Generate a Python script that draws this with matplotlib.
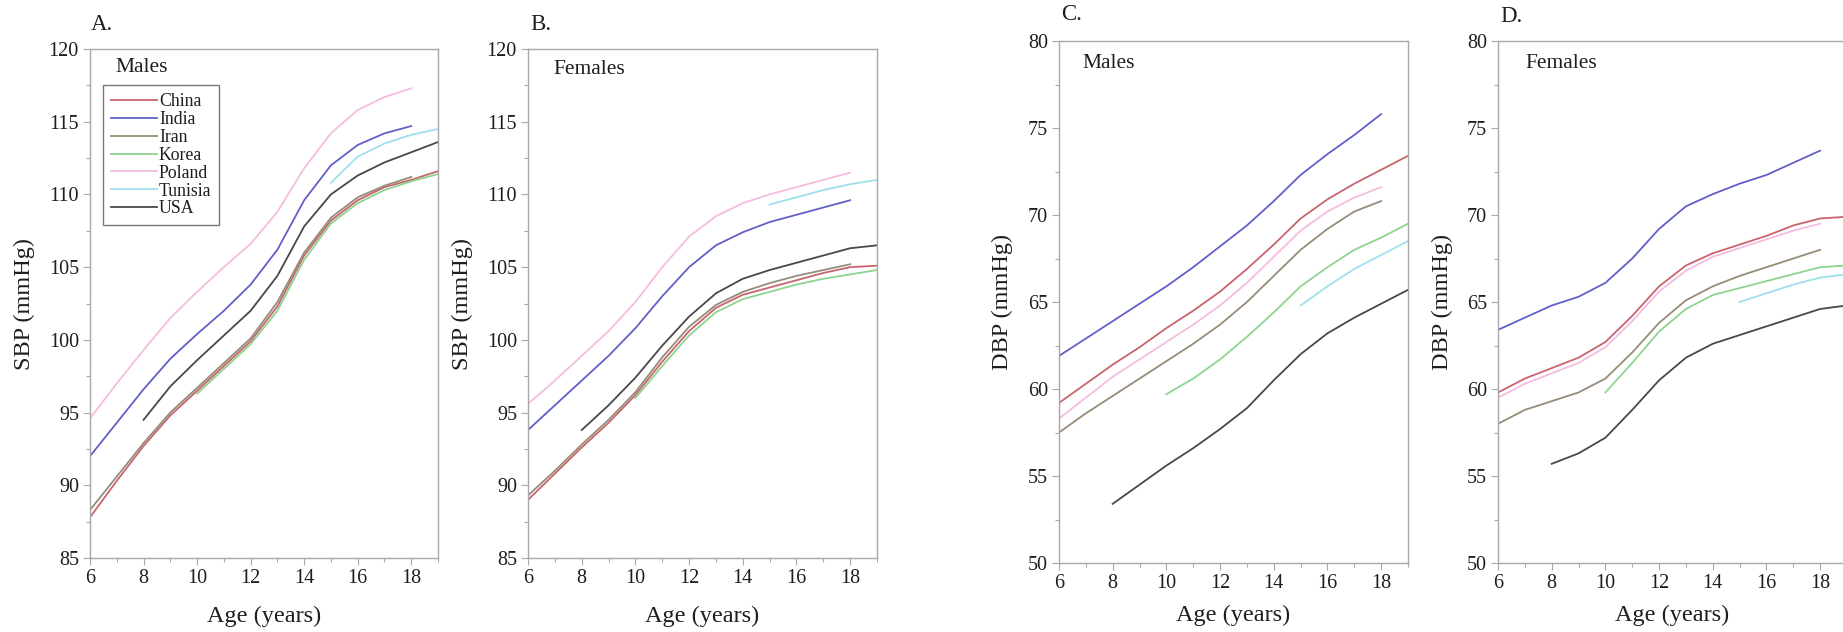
import matplotlib
matplotlib.use("Agg")
import matplotlib.pyplot as plt
from matplotlib.ticker import MultipleLocator

plt.rcParams['font.family'] = ['Liberation Serif', 'DejaVu Serif']

# ages covered by each country
age_china = [6, 7, 8, 9, 10, 11, 12, 13, 14, 15, 16, 17, 18, 19]
age_india = [6, 7, 8, 9, 10, 11, 12, 13, 14, 15, 16, 17, 18]
age_iran = [6, 7, 8, 9, 10, 11, 12, 13, 14, 15, 16, 17, 18]
age_korea = [10, 11, 12, 13, 14, 15, 16, 17, 18, 19]
age_poland = [6, 7, 8, 9, 10, 11, 12, 13, 14, 15, 16, 17, 18]
age_tunisia = [15, 16, 17, 18, 19]
age_usa = [8, 9, 10, 11, 12, 13, 14, 15, 16, 17, 18, 19]

countries = ['China', 'India', 'Iran', 'Korea', 'Poland', 'Tunisia', 'USA']
colors = ['#c8646e', '#6060c8', '#968c78', '#8ed490', '#f4bce0', '#9ee0ec', '#484848']

# A. SBP males
sbp_m_china = [87.8, 90.3, 92.7, 94.8, 96.5, 98.2, 99.9, 102.3, 105.8, 108.2, 109.6, 110.5, 111.0, 111.6]
sbp_m_india = [92.0, 94.3, 96.6, 98.7, 100.4, 102.0, 103.8, 106.2, 109.6, 112.0, 113.4, 114.2, 114.7]
sbp_m_iran = [88.3, 90.6, 92.9, 95.0, 96.7, 98.4, 100.1, 102.6, 106.0, 108.4, 109.8, 110.6, 111.2]
sbp_m_korea = [96.3, 98.0, 99.7, 102.0, 105.5, 108.0, 109.4, 110.3, 110.9, 111.4]
sbp_m_poland = [94.6, 97.0, 99.3, 101.5, 103.3, 105.0, 106.6, 108.8, 111.8, 114.2, 115.8, 116.7, 117.3]
sbp_m_tunisia = [110.8, 112.6, 113.5, 114.1, 114.5]
sbp_m_usa = [94.5, 96.8, 98.6, 100.3, 102.0, 104.4, 107.8, 110.0, 111.3, 112.2, 112.9, 113.6]

# B. SBP females
sbp_f_china = [89.0, 90.8, 92.6, 94.3, 96.2, 98.5, 100.6, 102.2, 103.1, 103.6, 104.1, 104.6, 105.0, 105.1]
sbp_f_india = [93.8, 95.5, 97.2, 98.9, 100.8, 103.0, 105.0, 106.5, 107.4, 108.1, 108.6, 109.1, 109.6]
sbp_f_iran = [89.3, 91.0, 92.8, 94.5, 96.4, 98.8, 100.9, 102.4, 103.3, 103.9, 104.4, 104.8, 105.2]
sbp_f_korea = [96.0, 98.2, 100.3, 101.9, 102.8, 103.3, 103.8, 104.2, 104.5, 104.8]
sbp_f_poland = [95.6, 97.2, 98.9, 100.6, 102.6, 105.0, 107.1, 108.5, 109.4, 110.0, 110.5, 111.0, 111.5]
sbp_f_tunisia = [109.3, 109.8, 110.3, 110.7, 111.0]
sbp_f_usa = [93.8, 95.5, 97.4, 99.6, 101.6, 103.2, 104.2, 104.8, 105.3, 105.8, 106.3, 106.5]

# C. DBP males
dbp_m_china = [59.2, 60.3, 61.4, 62.4, 63.5, 64.5, 65.6, 66.9, 68.3, 69.8, 70.9, 71.8, 72.6, 73.4]
dbp_m_india = [61.9, 62.9, 63.9, 64.9, 65.9, 67.0, 68.2, 69.4, 70.8, 72.3, 73.5, 74.6, 75.8]
dbp_m_iran = [57.5, 58.6, 59.6, 60.6, 61.6, 62.6, 63.7, 65.0, 66.5, 68.0, 69.2, 70.2, 70.8]
dbp_m_korea = [59.7, 60.6, 61.7, 63.0, 64.4, 65.9, 67.0, 68.0, 68.7, 69.5]
dbp_m_poland = [58.3, 59.5, 60.7, 61.7, 62.7, 63.7, 64.8, 66.1, 67.6, 69.1, 70.2, 71.0, 71.6]
dbp_m_tunisia = [64.8, 65.9, 66.9, 67.7, 68.5]
dbp_m_usa = [53.4, 54.5, 55.6, 56.6, 57.7, 58.9, 60.5, 62.0, 63.2, 64.1, 64.9, 65.7]

# D. DBP females
dbp_f_china = [59.8, 60.6, 61.2, 61.8, 62.7, 64.2, 65.9, 67.1, 67.8, 68.3, 68.8, 69.4, 69.8, 69.9]
dbp_f_india = [63.4, 64.1, 64.8, 65.3, 66.1, 67.5, 69.2, 70.5, 71.2, 71.8, 72.3, 73.0, 73.7]
dbp_f_iran = [58.0, 58.8, 59.3, 59.8, 60.6, 62.1, 63.8, 65.1, 65.9, 66.5, 67.0, 67.5, 68.0]
dbp_f_korea = [59.8, 61.5, 63.3, 64.6, 65.4, 65.8, 66.2, 66.6, 67.0, 67.1]
dbp_f_poland = [59.5, 60.3, 60.9, 61.5, 62.4, 63.9, 65.6, 66.8, 67.6, 68.1, 68.6, 69.1, 69.5]
dbp_f_tunisia = [65.0, 65.5, 66.0, 66.4, 66.6]
dbp_f_usa = [55.7, 56.3, 57.2, 58.8, 60.5, 61.8, 62.6, 63.1, 63.6, 64.1, 64.6, 64.8]

ages = [age_china, age_india, age_iran, age_korea, age_poland, age_tunisia, age_usa]

W, H = 1843.0, 632.0
fig = plt.figure(figsize=(W / 100, H / 100), dpi=100)
fig.patch.set_facecolor('white')

text_col = '#1e1e1e'
spine_col = '#a8a8a8'


def make_axes(left, top, bottom, width):
    return fig.add_axes([left / W, 1 - bottom / H, width / W, (bottom - top) / H])


def style(ax, ylim, ymajor, ylab, ylab_x, xlab_y):
    ax.set_xlim(6, 19)
    ax.set_ylim(*ylim)
    ax.xaxis.set_major_locator(MultipleLocator(2))
    ax.xaxis.set_minor_locator(MultipleLocator(1))
    ax.yaxis.set_major_locator(MultipleLocator(ymajor))
    ax.yaxis.set_minor_locator(MultipleLocator(ymajor / 2))
    for s in ax.spines.values():
        s.set_color(spine_col)
        s.set_linewidth(1.0)
    ax.tick_params(which='major', direction='out', length=5, width=0.8,
                   color=spine_col, labelsize=14.5, labelcolor=text_col, pad=3)
    ax.tick_params(which='minor', direction='out', length=3, width=0.8, color=spine_col)
    ax.set_xlabel('Age (years)', fontsize=17.5, color=text_col)
    ax.set_ylabel(ylab, fontsize=17.5, color=text_col)
    ax.xaxis.set_label_coords(0.5, xlab_y)
    ax.yaxis.set_label_coords(ylab_x, 0.5)


def draw(ax, series):
    for age, vals, col, name in zip(ages, series, colors, countries):
        ax.plot(age, vals, color=col, lw=1.3, label=name)


axA = make_axes(90, 49, 558, 348)
axB = make_axes(528, 49, 558, 349)
axC = make_axes(1059, 41, 563, 349)
axD = make_axes(1498, 41, 563, 349)

draw(axA, [sbp_m_china, sbp_m_india, sbp_m_iran, sbp_m_korea, sbp_m_poland, sbp_m_tunisia, sbp_m_usa])
draw(axB, [sbp_f_china, sbp_f_india, sbp_f_iran, sbp_f_korea, sbp_f_poland, sbp_f_tunisia, sbp_f_usa])
draw(axC, [dbp_m_china, dbp_m_india, dbp_m_iran, dbp_m_korea, dbp_m_poland, dbp_m_tunisia, dbp_m_usa])
draw(axD, [dbp_f_china, dbp_f_india, dbp_f_iran, dbp_f_korea, dbp_f_poland, dbp_f_tunisia, dbp_f_usa])

style(axA, (85, 120), 5, 'SBP (mmHg)', -0.158, -0.093)
style(axB, (85, 120), 5, 'SBP (mmHg)', -0.158, -0.093)
style(axC, (50, 80), 5, 'DBP (mmHg)', -0.132, -0.08)
style(axD, (50, 80), 5, 'DBP (mmHg)', -0.129, -0.08)

leg = axA.legend(loc='upper left', bbox_to_anchor=(0.037, 0.929), borderaxespad=0,
                 fontsize=12.8, frameon=True, fancybox=False, handlelength=2.6,
                 handletextpad=0.1, labelspacing=0.05, borderpad=0.45)
leg.get_frame().set_edgecolor('#555555')
leg.get_frame().set_linewidth(1.0)
for t in leg.get_texts():
    t.set_color(text_col)

# panel letters and sex labels
fig.text(91 / W, 1 - 25 / H, 'A.', fontsize=16.5, color=text_col, va='center')
fig.text(530 / W, 1 - 24 / H, 'B.', fontsize=16.5, color=text_col, va='center')
fig.text(1061 / W, 1 - 15 / H, 'C.', fontsize=16.5, color=text_col, va='center')
fig.text(1500 / W, 1 - 16 / H, 'D.', fontsize=16.5, color=text_col, va='center')

fig.text(115 / W, 1 - 68 / H, 'Males', fontsize=15.5, color=text_col, va='center')
fig.text(553 / W, 1 - 70 / H, 'Females', fontsize=15.5, color=text_col, va='center')
fig.text(1082 / W, 1 - 63 / H, 'Males', fontsize=15.5, color=text_col, va='center')
fig.text(1525 / W, 1 - 64 / H, 'Females', fontsize=15.5, color=text_col, va='center')

fig.savefig('out.png', dpi=100)
